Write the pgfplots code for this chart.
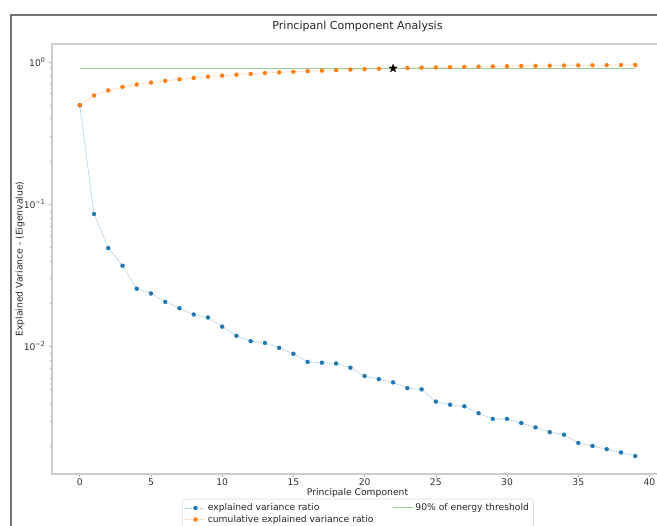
\documentclass[border=0pt]{standalone}
\usepackage{fontspec}
\setmainfont{DejaVu Sans}
\usepackage{pgfplots}
\usepackage{pgfplotstable}
\pgfplotsset{compat=1.18}
\definecolor{tabblue}{HTML}{1F77B4}
\definecolor{taborange}{HTML}{FF7F0E}
\definecolor{tabgreen}{HTML}{2CA02C}
\pgfdeclareplotmark{fstar}{%
  \pgfpathmoveto{\pgfpointpolar{90}{\pgfplotmarksize}}%
  \pgfpathlineto{\pgfpointpolar{126}{0.382\pgfplotmarksize}}%
  \pgfpathlineto{\pgfpointpolar{162}{\pgfplotmarksize}}%
  \pgfpathlineto{\pgfpointpolar{198}{0.382\pgfplotmarksize}}%
  \pgfpathlineto{\pgfpointpolar{234}{\pgfplotmarksize}}%
  \pgfpathlineto{\pgfpointpolar{270}{0.382\pgfplotmarksize}}%
  \pgfpathlineto{\pgfpointpolar{306}{\pgfplotmarksize}}%
  \pgfpathlineto{\pgfpointpolar{342}{0.382\pgfplotmarksize}}%
  \pgfpathlineto{\pgfpointpolar{18}{\pgfplotmarksize}}%
  \pgfpathlineto{\pgfpointpolar{54}{0.382\pgfplotmarksize}}%
  \pgfpathclose
  \pgfusepathqfillstroke}

\pgfplotstableread{
x y
0 0.497
1 0.0855
2 0.0492
3 0.0370
4 0.0255
5 0.0236
6 0.0206
7 0.0186
8 0.0168
9 0.0160
10 0.0138
11 0.0119
12 0.0109
13 0.0106
14 0.0098
15 0.0089
16 0.0078
17 0.0077
18 0.0076
19 0.0071
20 0.0062
21 0.0059
22 0.0056
23 0.0051
24 0.0050
25 0.0041
26 0.0039
27 0.0038
28 0.0034
29 0.0031
30 0.0031
31 0.0029
32 0.0027
33 0.0025
34 0.0024
35 0.0021
36 0.0020
37 0.0019
38 0.0018
39 0.0017
}\evr

\pgfplotstableread{
x y
0 0.497
1 0.5825
2 0.6317
3 0.6687
4 0.6942
5 0.7178
6 0.7384
7 0.7570
8 0.7738
9 0.7898
10 0.8036
11 0.8155
12 0.8264
13 0.8370
14 0.8468
15 0.8557
16 0.8635
17 0.8712
18 0.8788
19 0.8859
20 0.8921
21 0.8980
22 0.9036
23 0.9087
24 0.9137
25 0.9178
26 0.9217
27 0.9255
28 0.9289
29 0.9320
30 0.9351
31 0.9380
32 0.9407
33 0.9432
34 0.9456
35 0.9477
36 0.9497
37 0.9516
38 0.9534
39 0.9551
}\cevr

\begin{document}
\begin{tikzpicture}
\useasboundingbox (0pt,-526pt) rectangle (657pt,0pt);
\clip (0pt,-526pt) rectangle (657pt,0pt);
\fill[white] (0pt,-526pt) rectangle (657pt,0pt);
\draw[line width=2.2pt, black!55] (11pt,-540pt) -- (11pt,-15pt) -- (670pt,-15pt);
\begin{axis}[
  at={(52pt,-474pt)}, anchor=south west,
  scale only axis, width=611pt, height=430pt,
  ymode=log,
  xmin=-1.95, xmax=40.95, ymin=1.27e-3, ymax=1.34,
  xtick={0,5,...,40},
  ytick={0.01,0.1,1},
  yticklabels={10\textsuperscript{−2},10\textsuperscript{−1},10\textsuperscript{0}},
  minor ytick={0.002,0.003,0.004,0.005,0.006,0.007,0.008,0.009,0.02,0.03,0.04,0.05,0.06,0.07,0.08,0.09,0.2,0.3,0.4,0.5,0.6,0.7,0.8,0.9},
  xtick pos=bottom, ytick pos=left,
  tick align=outside,
  major tick length=3pt, minor tick length=2pt,
  every tick/.style={black!30, line width=0.6pt},
  axis line style={black!20, line width=1.3pt},
  /pgf/number format/assume math mode=true,
  ticklabel style={font=\fontsize{9.2}{11}\selectfont, text=black!80},
  xticklabel style={yshift=1.5pt},
  every axis title shift=0pt,
  title={Principanl Component Analysis},
  title style={at={(axis description cs:0.5,1.0419)}, anchor=center, font=\fontsize{11}{13}\selectfont, text=black!85},
  xlabel={Principale Component},
  xlabel style={at={(axis description cs:0.5,-0.0440)}, anchor=center, font=\fontsize{9.2}{11}\selectfont, text=black!85},
  ylabel={Explained Variance - (Eigenvalue)},
  ylabel style={at={(axis description cs:-0.0524,0.5)}, anchor=center, font=\fontsize{9.2}{11}\selectfont, text=black!85},
  legend columns=2,
  legend cell align=left,
  legend style={at={(axis description cs:0.5008,-0.0581)}, anchor=north,
    draw=black!20, rounded corners=2pt, font=\fontsize{9.2}{11}\selectfont, text=black!85,
    row sep=-1pt, inner sep=2.5pt,
    /tikz/every even column/.append style={column sep=17pt}},
  legend image code/.code={\draw[mark repeat=2,mark phase=2,#1] plot coordinates {(0pt,0pt) (10pt,0pt) (20pt,0pt)};},
]
\addplot[forget plot, color=tabblue!40, line width=0.8pt, dash pattern=on 1.5pt off 1pt, mark=*, mark size=2pt, mark options={solid, fill=tabblue, draw=tabblue, line width=0.3pt}] table[x=x,y=y] {\evr};
\addplot[forget plot, color=taborange!40, line width=0.8pt, dash pattern=on 1.5pt off 1pt, mark=*, mark size=2pt, mark options={solid, fill=taborange, draw=taborange, line width=0.3pt}] table[x=x,y=y] {\cevr};
\addplot[forget plot, color=tabgreen!50, line width=1pt] coordinates {(0,0.9) (39,0.9)};
\addplot[forget plot, only marks, mark=fstar, mark size=4.5pt, mark options={fill=black, draw=black, line width=0.2pt}] coordinates {(22,0.9036)};
\addlegendimage{color=tabblue!40, line width=0.8pt, dash pattern=on 1.5pt off 1pt, mark=*, mark size=2pt, mark options={solid, fill=tabblue, draw=tabblue, line width=0.3pt}}
\addlegendentry{explained variance ratio}
\addlegendimage{color=tabgreen!50, line width=1pt}
\addlegendentry{90\% of energy threshold}
\addlegendimage{color=taborange!40, line width=0.8pt, dash pattern=on 1.5pt off 1pt, mark=*, mark size=2pt, mark options={solid, fill=taborange, draw=taborange, line width=0.3pt}}
\addlegendentry{cumulative explained variance ratio}
\end{axis}
\end{tikzpicture}
\end{document}
